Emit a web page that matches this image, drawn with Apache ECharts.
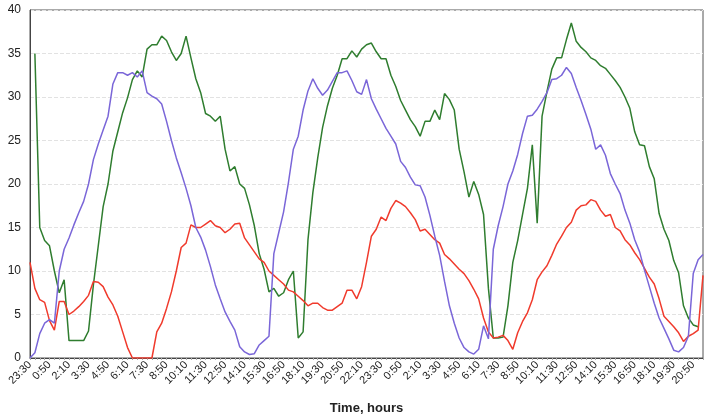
<!DOCTYPE html>
<html>
<head>
<meta charset="utf-8">
<script src="https://cdn.jsdelivr.net/npm/echarts@6/dist/echarts.min.js"></script>
<style>
  html, body { margin: 0; padding: 0; background: #fff; }
  #chart { width: 704px; height: 420px; }
</style>
</head>
<body>
<div id="chart"></div>
<script>
// tick labels, one every 80 min (4 samples of 20 min)
var tickLabels = ['23:30', '0:50', '2:10', '3:30', '4:50', '6:10', '7:30', '8:50', '10:10', '11:30',
    '12:50', '14:10', '15:30', '16:50', '18:10', '19:30', '20:50', '22:10', '23:30', '0:50',
    '2:10', '3:30', '4:50', '6:10', '7:30', '8:50', '10:10', '11:30', '12:50', '14:10',
    '15:30', '16:50', '18:10', '19:30', '20:50'];

// samples every 20 minutes starting 23:30
var green = [null, 35, 15, 13.5, 12.9, 10, 7.5, 9, 2, 2,
    2, 2, 3.1, 8.4, 12.9, 17.4, 20, 23.8, 26, 28.2,
    29.9, 32, 33, 32.3, 35.5, 36, 36, 37, 36.5, 35.2,
    34.2, 35, 37, 34.5, 32.1, 30.5, 28.1, 27.8, 27.2, 27.8,
    24, 21.5, 22, 20, 19.5, 17.6, 15.2, 12, 10.2, 7.6,
    8, 7.1, 7.5, 9, 10, 2.3, 3, 13.6, 19, 23,
    26.5, 29, 31, 32.5, 34.4, 34.4, 35.3, 34.6, 35.5, 36,
    36.2, 35.2, 34.4, 34.4, 32.5, 31.2, 29.6, 28.5, 27.4, 26.6,
    25.5, 27.2, 27.2, 28.5, 27.4, 30.4, 29.7, 28.5, 24, 21.4,
    18.5, 20.3, 18.8, 16.5, 8, 2.3, 2.3, 2.4, 6, 11,
    13.5, 16.5, 19.5, 24.5, 15.5, 27.8, 30.6, 33.2, 34.5, 34.5,
    36.6, 38.5, 36.4, 35.7, 35.2, 34.5, 34.2, 33.6, 33.3, 32.6,
    31.9, 31.1, 30, 28.7, 26, 24.5, 24.4, 22, 20.6, 16.6,
    14.8, 13.5, 11.2, 9.8, 6, 4.6, 3.8, 3.6, null];

var blue = [0, 0.6, 2.8, 4, 4.4, 4.0, 10, 12.5, 13.8, 15.3,
    16.7, 18, 20, 22.8, 24.6, 26.2, 27.8, 31.5, 32.8, 32.8,
    32.5, 32.8, 32.3, 33, 30.5, 30.1, 29.8, 29.2, 27.2, 25,
    23, 21.3, 19.5, 17.5, 15, 13.9, 12.4, 10.5, 8.4, 6.8,
    5.3, 4.2, 3.2, 1.3, 0.7, 0.4, 0.5, 1.5, 2, 2.5,
    12, 14.4, 16.8, 20.2, 24, 25.5, 28.5, 30.7, 32.1, 31,
    30.2, 30.8, 31.8, 32.8, 32.8, 33, 31.9, 30.6, 30.3, 32,
    29.8, 28.6, 27.5, 26.4, 25.5, 24.6, 22.6, 21.9, 20.8, 19.9,
    19.8, 18.5, 16.4, 14, 11.8, 8.8, 6, 4, 2.3, 1.2,
    0.7, 0.45, 1, 3.7, 2.2, 12.5, 15.2, 17.4, 20, 21.5,
    23.4, 25.8, 27.8, 27.9, 28.6, 29.5, 30.5, 32, 32.1, 32.5,
    33.4, 32.7, 31.1, 29.6, 28, 26.3, 24, 24.5, 23.3, 21.2,
    20, 18.9, 17, 15.5, 13.6, 12.2, 10.1, 8.2, 6.3, 4.6,
    3.4, 2.2, 0.9, 0.7, 1.2, 2.5, 9.7, 11.3, 11.9];

var red = [11, 8, 6.7, 6.4, 4.3, 3.2, 6.5, 6.5, 5, 5.4,
    5.9, 6.5, 7.2, 8.8, 8.7, 8.2, 7, 6.1, 4.8, 3,
    1.2, 0, 0, 0, 0, 0, 3, 4, 5.7, 7.6,
    10, 12.7, 13.2, 15.3, 15, 15, 15.4, 15.8, 15.2, 15,
    14.4, 14.8, 15.4, 15.5, 13.8, 13, 12.2, 11.4, 11, 10,
    9.5, 9, 8.5, 7.8, 7.6, 7.1, 6.6, 6, 6.3, 6.3,
    5.8, 5.5, 5.5, 5.9, 6.3, 7.8, 7.8, 6.8, 8.2, 11,
    14, 14.8, 16.2, 15.8, 17.2, 18.1, 17.8, 17.4, 16.7, 15.9,
    14.6, 14.8, 14.2, 13.6, 13.2, 11.9, 11.4, 10.8, 10.2, 9.7,
    8.9, 7.9, 6.8, 4.6, 3, 2.3, 2.4, 2.6, 2.0, 1,
    2.9, 4.2, 5.2, 6.7, 9, 9.9, 10.6, 11.8, 13.1, 14,
    15, 15.6, 17, 17.5, 17.6, 18.2, 18, 17, 16.3, 16.5,
    15, 14.6, 13.6, 13, 12.1, 11.3, 10.3, 9.3, 8.5, 6.8,
    4.8, 4.2, 3.6, 2.9, 1.9, 2.5, 2.8, 3.2, 9.5];

var categories = [];
for (var i = 0; i < blue.length; i++) {
    categories.push(String(i));
}

var chart = echarts.init(document.getElementById('chart'));

var lineSeries = function (name, data, color) {
    return {
        name: name,
        type: 'line',
        data: data,
        symbol: 'none',
        lineStyle: { color: color, width: 1.5 },
        itemStyle: { color: color }
    };
};

chart.setOption({
    animation: false,
    backgroundColor: '#fff',
    textStyle: { fontFamily: 'Liberation Sans, Arial, sans-serif' },
    grid: {
        left: 30,
        right: 1,
        top: 10,
        bottom: 56,
        show: true,
        borderColor: '#555',
        borderWidth: 1
    },
    xAxis: {
        type: 'category',
        boundaryGap: false,
        data: categories,
        name: 'Time, hours',
        nameLocation: 'middle',
        nameGap: 44,
        nameTextStyle: { fontSize: 13, fontWeight: 'bold', color: '#222' },
        axisLine: { lineStyle: { color: '#444', width: 1 } },
        axisTick: { show: true, interval: 0, length: 2, lineStyle: { color: '#aaa' } },
        axisLabel: {
            rotate: 45,
            fontSize: 11,
            color: '#222',
            margin: 5,
            interval: function (index) { return index % 4 === 0; },
            formatter: function (value, index) { return tickLabels[index / 4]; }
        },
        splitLine: { show: false }
    },
    yAxis: {
        type: 'value',
        min: 0,
        max: 40,
        interval: 5,
        axisLine: { show: true, lineStyle: { color: '#444', width: 1 } },
        axisTick: { show: false },
        axisLabel: { fontSize: 12, color: '#222', margin: 9 },
        splitLine: { show: true, lineStyle: { color: '#e2e2e2', type: 'dashed' } }
    },
    series: [
        lineSeries('Green', green, '#2f7d2f'),
        lineSeries('Red', red, '#f03a2c'),
        lineSeries('Blue', blue, '#7a66d8')
    ]
});
</script>
</body>
</html>
